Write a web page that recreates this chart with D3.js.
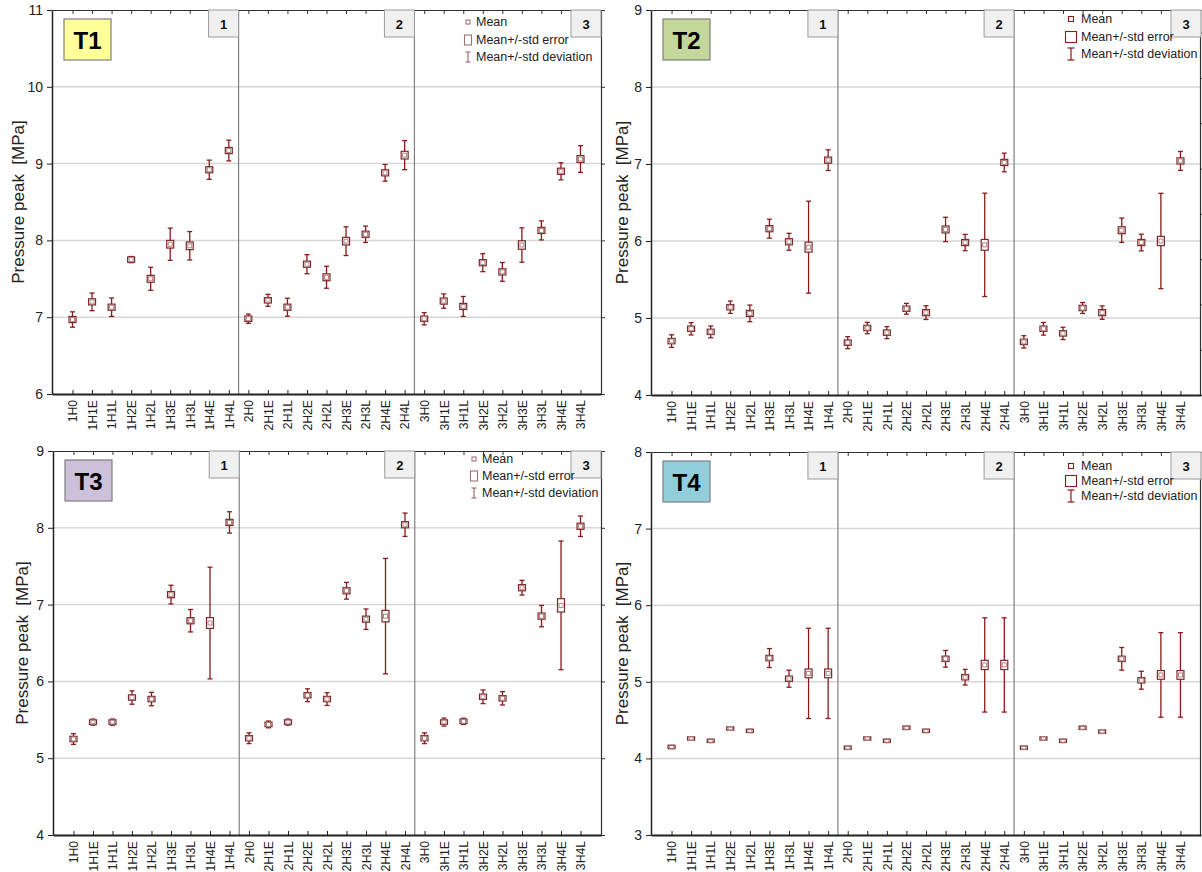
<!DOCTYPE html>
<html>
<head>
<meta charset="utf-8">
<script src="https://cdn.jsdelivr.net/npm/d3@7"></script>
<style>
  body { margin: 0; background: #fff; }
  svg text { font-family: "Liberation Sans", Arial, sans-serif; }
</style>
</head>
<body>
<svg id="chart" width="1202" height="872"></svg>
<script>
// categories: three test groups x nine conditions
const groups = ['1', '2', '3'];
const conditions = ['H0', 'H1E', 'H1L', 'H2E', 'H2L', 'H3E', 'H3L', 'H4E', 'H4L'];
const categories = groups.flatMap(g => conditions.map(c => g + c));
const legendLabels = ['Mean', 'Mean+/-std error', 'Mean+/-std deviation'];
const yTitle = 'Pressure peak  [MPa]';

// T1
const t1Mean = [6.97, 7.20, 7.13, 7.75, 7.50, 7.95, 7.93, 8.92, 9.17,
                6.98, 7.22, 7.13, 7.69, 7.52, 7.99, 8.08, 8.88, 9.11,
                6.98, 7.21, 7.14, 7.71, 7.59, 7.94, 8.13, 8.90, 9.06];
const t1Sd = [0.10, 0.115, 0.12, 0.04, 0.15, 0.21, 0.185, 0.125, 0.135,
              0.06, 0.078, 0.117, 0.124, 0.143, 0.187, 0.107, 0.109, 0.189,
              0.08, 0.093, 0.13, 0.117, 0.122, 0.224, 0.124, 0.111, 0.174];
const t1Se = [0.04, 0.04, 0.04, 0.035, 0.045, 0.05, 0.05, 0.04, 0.04,
              0.035, 0.035, 0.04, 0.04, 0.045, 0.05, 0.04, 0.04, 0.05,
              0.035, 0.04, 0.04, 0.04, 0.04, 0.055, 0.04, 0.04, 0.045];

// T2
const t2Mean = [4.70, 4.86, 4.82, 5.14, 5.06, 6.16, 5.99, 5.92, 7.05,
                4.68, 4.87, 4.81, 5.12, 5.07, 6.15, 5.98, 5.95, 7.02,
                4.69, 4.86, 4.80, 5.13, 5.07, 6.14, 5.98, 6.00, 7.04];
const t2Sd = [0.082, 0.08, 0.076, 0.08, 0.108, 0.123, 0.11, 0.597, 0.134,
              0.078, 0.074, 0.078, 0.07, 0.089, 0.158, 0.106, 0.671, 0.121,
              0.08, 0.082, 0.08, 0.071, 0.087, 0.158, 0.108, 0.619, 0.123];
const t2Se = [0.035, 0.035, 0.035, 0.035, 0.04, 0.04, 0.04, 0.065, 0.04,
              0.035, 0.035, 0.035, 0.035, 0.04, 0.045, 0.04, 0.07, 0.04,
              0.035, 0.035, 0.035, 0.035, 0.04, 0.045, 0.04, 0.06, 0.04];

// T3
const t3Mean = [5.25, 5.47, 5.47, 5.79, 5.77, 7.13, 6.79, 6.76, 8.07,
                5.26, 5.44, 5.47, 5.82, 5.77, 7.18, 6.81, 6.85, 8.04,
                5.26, 5.47, 5.48, 5.80, 5.78, 7.22, 6.85, 6.99, 8.02];
const t3Sd = [0.07, 0.04, 0.04, 0.087, 0.087, 0.122, 0.146, 0.727, 0.139,
              0.07, 0.044, 0.04, 0.083, 0.083, 0.109, 0.133, 0.751, 0.152,
              0.07, 0.052, 0.04, 0.089, 0.087, 0.096, 0.139, 0.838, 0.133];
const t3Se = [0.035, 0.03, 0.03, 0.035, 0.035, 0.04, 0.04, 0.07, 0.04,
              0.035, 0.03, 0.03, 0.035, 0.035, 0.04, 0.04, 0.075, 0.04,
              0.035, 0.03, 0.03, 0.035, 0.035, 0.04, 0.04, 0.087, 0.04];

// T4
const t4Mean = [4.15, 4.26, 4.23, 4.39, 4.36, 5.31, 5.04, 5.11, 5.11,
                4.14, 4.26, 4.23, 4.40, 4.36, 5.30, 5.06, 5.22, 5.22,
                4.14, 4.26, 4.23, 4.40, 4.35, 5.30, 5.02, 5.09, 5.09];
const t4Sd = [0.015, 0.015, 0.015, 0.015, 0.015, 0.124, 0.111, 0.589, 0.589,
              0.015, 0.015, 0.015, 0.015, 0.015, 0.109, 0.102, 0.615, 0.615,
              0.015, 0.015, 0.015, 0.015, 0.015, 0.148, 0.117, 0.552, 0.552];
const t4Se = [0.022, 0.022, 0.022, 0.022, 0.022, 0.035, 0.035, 0.057, 0.057,
              0.022, 0.022, 0.022, 0.022, 0.022, 0.035, 0.035, 0.06, 0.06,
              0.022, 0.022, 0.022, 0.022, 0.022, 0.035, 0.035, 0.057, 0.057];

const RED = '#8b1a1a';
const svg = d3.select('#chart');

// panel layouts
const panels = [
  { name: 'T1', fill: '#ffff99', mean: t1Mean, sd: t1Sd, se: t1Se, yDomain: [6, 11],
    left: 52, right: 601, top: 10, bottom: 394, titleX: 18, legendX: 468, legendY: [22, 40, 57], dark: false, rightTicks: true },
  { name: 'T2', fill: '#c4d79b', mean: t2Mean, sd: t2Sd, se: t2Se, yDomain: [4, 9],
    left: 651, right: 1201, top: 10, bottom: 395, titleX: 622, legendX: 1071, legendY: [19, 37, 54], dark: true, rightTicks: false },
  { name: 'T3', fill: '#ccc0da', mean: t3Mean, sd: t3Sd, se: t3Se, yDomain: [4, 9],
    left: 53, right: 601, top: 451, bottom: 835, titleX: 22, legendX: 474, legendY: [459, 476, 493], dark: false, rightTicks: true },
  { name: 'T4', fill: '#92cddc', mean: t4Mean, sd: t4Sd, se: t4Se, yDomain: [3, 8],
    left: 651, right: 1201, top: 452, bottom: 835, titleX: 622, legendX: 1071, legendY: [466, 481, 496], dark: true, rightTicks: false }
];

panels.forEach(drawPanel);

function drawPanel(p) {
  const g = svg.append('g');
  const x = d3.scalePoint().domain(categories).range([p.left, p.right]).padding(1.05);
  const y = d3.scaleLinear().domain(p.yDomain).range([p.bottom, p.top]);
  const yTicks = y.ticks(5);

  // gridlines
  g.append('g').selectAll('line')
    .data(yTicks.filter(v => v > p.yDomain[0] && v < p.yDomain[1]))
    .join('line')
    .attr('x1', p.left).attr('x2', p.right)
    .attr('y1', d => y(d)).attr('y2', d => y(d))
    .attr('stroke', '#d6d6d6').attr('stroke-width', 1.5);

  // group dividers
  const idx = [8, 17];
  g.append('g').selectAll('line')
    .data(idx)
    .join('line')
    .attr('x1', i => (x(categories[i]) + x(categories[i + 1])) / 2)
    .attr('x2', i => (x(categories[i]) + x(categories[i + 1])) / 2)
    .attr('y1', p.top).attr('y2', p.bottom)
    .attr('stroke', '#808080').attr('stroke-width', 1.2);

  // top border with inner ticks
  const top = g.append('g').attr('transform', `translate(0,${p.top})`)
    .call(d3.axisTop(x).tickSizeInner(-4).tickSizeOuter(0).tickFormat(''));
  top.select('.domain').attr('stroke', '#333').attr('stroke-width', 1.2);
  top.selectAll('.tick line').attr('stroke', '#333');

  // right border
  if (p.rightTicks) {
    const r = g.append('g').attr('transform', `translate(${p.right},0)`)
      .call(d3.axisRight(y).ticks(5).tickSize(4).tickSizeOuter(0).tickFormat(''));
    r.select('.domain').attr('stroke', '#333').attr('stroke-width', 1.2);
    r.selectAll('.tick line').attr('stroke', '#333');
  } else {
    // cut-off secondary scale on the right edge
    const y2 = d3.scaleLinear().domain([0, 8.5]).range([p.bottom, p.top]);
    const r = g.append('g').attr('transform', `translate(${p.right - 1},0)`)
      .call(d3.axisRight(y2).ticks(8).tickSize(4).tickSizeOuter(0).tickFormat(''));
    r.select('.domain').attr('stroke', '#333').attr('stroke-width', 1.2);
    r.selectAll('.tick line').attr('stroke', '#333');
    if (p.name === 'T4') r.selectAll('.tick').remove();
  }

  // left axis
  const la = g.append('g').attr('transform', `translate(${p.left},0)`)
    .call(d3.axisLeft(y).ticks(5).tickSize(5).tickSizeOuter(0).tickPadding(4));
  la.select('.domain').attr('stroke', '#222').attr('stroke-width', 1.5);
  la.selectAll('.tick line').attr('stroke', '#222');
  la.selectAll('.tick text').attr('font-size', 14).attr('fill', '#222')
    .style('font-family', '"Liberation Sans", Arial, sans-serif');

  // bottom axis
  const ba = g.append('g').attr('transform', `translate(0,${p.bottom})`)
    .call(d3.axisBottom(x).tickSizeInner(-4).tickSizeOuter(0));
  ba.select('.domain').attr('stroke', '#222').attr('stroke-width', 1.8);
  ba.selectAll('.tick line').attr('stroke', '#222');
  ba.selectAll('.tick text')
    .attr('transform', 'rotate(-90)')
    .attr('x', -6).attr('y', 0).attr('dy', '0.35em')
    .attr('text-anchor', 'end')
    .attr('font-size', 12.2).attr('fill', '#222')
    .style('font-family', '"Liberation Sans", Arial, sans-serif');

  // y title
  g.append('text')
    .attr('transform', `translate(${p.titleX},${(p.top + p.bottom) / 2}) rotate(-90)`)
    .attr('text-anchor', 'middle').attr('dy', '0.35em')
    .attr('font-size', 17).attr('fill', '#222')
    .style('white-space', 'pre')
    .text(yTitle);

  // data
  const data = categories.map((c, i) => ({ cat: c, mean: p.mean[i], sd: p.sd[i], se: p.se[i] }));
  const pts = g.append('g').selectAll('g').data(data).join('g')
    .attr('transform', d => `translate(${x(d.cat)},0)`);
  pts.append('line')
    .attr('y1', d => y(d.mean + d.sd)).attr('y2', d => y(d.mean - d.sd))
    .attr('stroke', RED).attr('stroke-width', 1.3);
  pts.append('line')
    .attr('x1', -2.5).attr('x2', 2.5)
    .attr('y1', d => y(d.mean + d.sd)).attr('y2', d => y(d.mean + d.sd))
    .attr('stroke', RED).attr('stroke-width', 1.3);
  pts.append('line')
    .attr('x1', -2.5).attr('x2', 2.5)
    .attr('y1', d => y(d.mean - d.sd)).attr('y2', d => y(d.mean - d.sd))
    .attr('stroke', RED).attr('stroke-width', 1.3);
  pts.append('rect')
    .attr('x', -3.5).attr('width', 7)
    .attr('y', d => y(d.mean + d.se))
    .attr('height', d => y(d.mean - d.se) - y(d.mean + d.se))
    .attr('fill', '#fff').attr('stroke', '#7a2a2a').attr('stroke-width', 1.2);
  pts.append('rect')
    .attr('x', -2).attr('width', 4)
    .attr('y', d => y(d.mean) - 2).attr('height', 4)
    .attr('fill', 'none').attr('stroke', '#b08585').attr('stroke-width', 1);

  // group label boxes
  const boxRights = [...idx.map(i => (x(categories[i]) + x(categories[i + 1])) / 2), p.right];
  groups.forEach((lab, k) => {
    g.append('rect')
      .attr('x', boxRights[k] - 30).attr('y', p.top)
      .attr('width', 30).attr('height', 27)
      .attr('fill', '#f0f0f0').attr('stroke', '#9a9a9a').attr('stroke-width', 1);
    g.append('text')
      .attr('x', boxRights[k] - 15).attr('y', p.top + 14)
      .attr('dy', '0.35em').attr('text-anchor', 'middle')
      .attr('font-size', 13).attr('font-weight', 'bold').attr('fill', '#111')
      .text(lab);
  });

  // title box
  g.append('rect')
    .attr('x', p.left + 12).attr('y', p.top + 9)
    .attr('width', 47).attr('height', 41)
    .attr('fill', p.fill).attr('stroke', '#7f7f7f').attr('stroke-width', 1.2);
  g.append('text')
    .attr('x', p.left + 35.5).attr('y', p.top + 30)
    .attr('dy', '0.36em').attr('text-anchor', 'middle')
    .attr('font-size', 24).attr('font-weight', 'bold').attr('fill', '#000')
    .text(p.name);

  // legend
  const lc = p.dark ? RED : '#a07075';
  const lx = p.legendX;
  const [ly0, ly1, ly2] = p.legendY;
  const ms = p.dark ? 5 : 4;
  g.append('rect').attr('x', lx - ms / 2).attr('y', ly0 - ms / 2)
    .attr('width', ms).attr('height', ms)
    .attr('fill', 'none').attr('stroke', lc).attr('stroke-width', 1.1);
  const bw = p.dark ? 11 : 7, bh = p.dark ? 11 : 10;
  g.append('rect').attr('x', lx - bw / 2).attr('y', ly1 - bh / 2)
    .attr('width', bw).attr('height', bh)
    .attr('fill', 'none').attr('stroke', lc).attr('stroke-width', 1.1);
  const ih = p.dark ? 12 : 10, iw = p.dark ? 7 : 5;
  g.append('line').attr('x1', lx).attr('x2', lx).attr('y1', ly2 - ih / 2).attr('y2', ly2 + ih / 2)
    .attr('stroke', lc).attr('stroke-width', 1.2);
  [ly2 - ih / 2, ly2 + ih / 2].forEach(yy => {
    g.append('line').attr('x1', lx - iw / 2).attr('x2', lx + iw / 2).attr('y1', yy).attr('y2', yy)
      .attr('stroke', lc).attr('stroke-width', 1.2);
  });
  legendLabels.forEach((t, k) => {
    g.append('text')
      .attr('x', lx + (p.dark ? 10 : 8)).attr('y', p.legendY[k])
      .attr('dy', '0.35em').attr('font-size', 12.5).attr('fill', '#222')
      .text(t);
  });
}
</script>
</body>
</html>
